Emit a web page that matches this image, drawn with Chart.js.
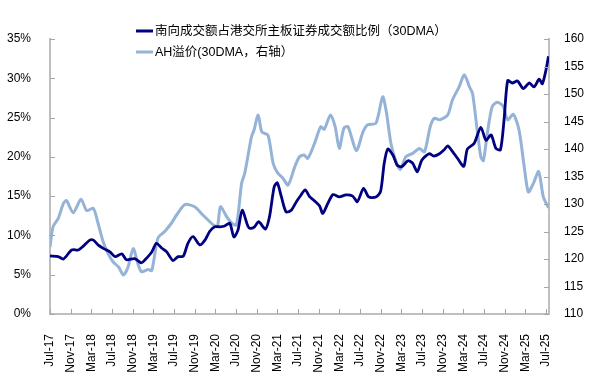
<!DOCTYPE html>
<html><head><meta charset="utf-8">
<script src="https://cdn.jsdelivr.net/npm/chart.js@4.4.1/dist/chart.umd.min.js"></script>
<style>html,body{margin:0;padding:0;background:#fff}#wrap{width:613px;height:381px;position:relative}</style>
</head><body><div id="wrap"><canvas id="c" width="613" height="381"></canvas></div>
<script>
// ---- data ----
const southboundLabel = "南向成交额占港交所主板证券成交额比例（30DMA）";
const ahLabel = "AH溢价(30DMA，右轴）";
const tickLabels = ["Jul-17","Nov-17","Mar-18","Jul-18","Nov-18","Mar-19","Jul-19","Nov-19","Mar-20","Jul-20","Nov-20","Mar-21","Jul-21","Nov-21","Mar-22","Jul-22","Nov-22","Mar-23","Jul-23","Nov-23","Mar-24","Jul-24","Nov-24","Mar-25","Jul-25"];
const tickMonths = [0,4,8,12,16,20,24,28,32,36,40,44,48,52,56,60,64,68,72,76,80,84,88,92,96];
const leftTicks = [0,5,10,15,20,25,30,35];
const rightTicks = [110,115,120,125,130,135,140,145,150,155,160];

// months since Jul-17 and southbound share (%)
const southboundMonths = [0,1.6,2.6,4.2,5.5,6.4,7.7,8.4,9.3,10.3,11.6,12.6,13.9,14.8,16.4,17.7,18.4,19.7,20.6,21.6,22.6,23.8,24.8,25.8,26.7,27.7,29.0,30.0,30.9,31.9,32.9,33.8,34.8,35.6,36.4,37.2,38.3,38.7,39.6,40.4,41.7,42.5,43.4,44.0,44.8,45.7,46.7,47.7,48.6,49.4,50.3,51.2,52.2,52.8,53.8,54.8,56.0,57.3,58.6,59.5,60.7,61.7,63.1,64.0,64.7,65.4,66.4,67.2,68.1,69.3,70.2,71.1,72.0,73.4,74.3,75.4,76.3,77.0,77.9,78.9,80.1,80.8,82.1,83.4,84.4,85.4,86.3,87.2,87.9,88.6,89.5,90.5,91.6,92.8,93.7,94.7,95.3,96.0,96.5];
const southboundShare = [7.4,7.3,7.0,8.15,8.15,8.6,9.4,9.4,8.8,8.35,7.9,7.3,7.65,6.9,7.05,6.5,6.9,7.9,9.0,8.4,7.9,6.8,7.3,7.35,9.0,9.85,8.8,9.4,10.5,11.1,11.1,11.2,11.55,9.8,10.7,13.2,11.2,10.9,11.1,11.75,10.8,12.4,16.2,16.7,14.9,13.0,13.2,14.3,15.15,15.8,14.9,14.4,13.75,12.8,14.1,15.2,14.9,15.15,15.0,14.3,16.0,14.9,14.9,15.6,19.2,21.0,20.2,18.96,18.75,19.5,19.2,18.1,19.6,20.4,20.1,20.4,20.9,21.4,20.7,19.8,18.8,21.0,21.7,23.76,22.1,22.8,21.1,20.9,24.7,29.7,29.4,29.65,28.7,29.4,28.9,29.9,29.3,31.0,32.8];

// months since Jul-17 and AH premium index (right axis)
const ahMonths = [0,0.6,1.6,2.6,3.2,4.5,6.0,7.1,8.4,9.3,10.3,11.3,12.2,13.3,14.2,15.1,16.1,17.0,17.7,19.0,19.7,20.9,22.2,23.5,24.5,26.1,28.0,29.6,31.6,32.4,33.0,34.2,35.2,36.1,37.1,37.7,39.0,39.5,40.3,41.0,42.2,43.2,44.1,45.1,46.1,47.4,48.3,49.2,49.9,51.2,52.4,53.1,54.3,55.2,56.0,56.9,57.7,59.3,60.6,61.5,63.1,64.4,65.1,66.0,67.0,67.8,68.9,70.2,71.5,72.5,73.6,74.4,75.4,77.0,77.9,79.2,80.2,81.2,81.8,82.7,83.4,83.9,84.7,85.6,86.6,87.7,88.6,89.7,90.8,91.8,92.6,93.6,94.6,95.5,96.5];
const ahPremium = [122.2,125.9,127.4,130.1,130.6,128.4,130.85,128.8,129.2,126.5,123.1,120.9,119.5,118.5,117.1,118.5,121.9,119.2,117.7,118.1,117.9,123.8,125.0,126.5,128.0,129.9,129.5,128.0,126.2,125.9,129.5,127.7,126.5,126.2,133.8,135.6,142.2,143.45,146.2,143.1,142.5,137.4,135.6,134.7,133.45,136.8,138.6,138.9,138.3,141.0,144.05,143.6,146.2,144.05,140.1,143.8,144.05,139.7,143.1,144.4,144.7,149.5,146.8,141.0,137.7,136.3,138.6,139.2,140.1,139.5,144.05,145.6,145.3,146.2,148.9,151.3,153.5,151.3,150.1,143.45,138.6,137.9,143.1,147.7,148.5,147.8,145.3,146.3,143.45,136.8,132.2,133.8,135.9,131.3,129.3];

// ---- chart ----
const DARK = '#000080';
const LIGHT = '#95B3D7';
const AXIS = '#BFBFBF';
const FONT = '"Liberation Sans", Arial, "Noto Sans CJK SC", sans-serif';

const innerTicks = {
  id: 'innerTicks',
  afterDraw(chart) {
    const ctx = chart.ctx, a = chart.chartArea;
    const sx = chart.scales.x, sl = chart.scales.yL, sr = chart.scales.yR;
    ctx.save();
    ctx.strokeStyle = '#A6A6A6';
    ctx.lineWidth = 1;
    ctx.beginPath();
    sl.ticks.forEach(t => { const y = Math.round(sl.getPixelForValue(t.value)) + 0.5; ctx.moveTo(a.left, y); ctx.lineTo(a.left + 5, y); });
    sr.ticks.forEach(t => { const y = Math.round(sr.getPixelForValue(t.value)) + 0.5; ctx.moveTo(a.right, y); ctx.lineTo(a.right - 5, y); });
    sx.ticks.forEach(t => { const x = Math.round(sx.getPixelForValue(t.value)) + 0.5; ctx.moveTo(x, a.bottom); ctx.lineTo(x, a.bottom - 5); });
    ctx.stroke();
    ctx.restore();
  }
};

const customLegend = {
  id: 'customLegend',
  afterDraw(chart) {
    const ctx = chart.ctx;
    const rows = [{ds: chart.data.datasets[0], y: 31}, {ds: chart.data.datasets[1], y: 52}];
    ctx.save();
    ctx.font = '12.5px ' + FONT;
    ctx.textBaseline = 'middle';
    ctx.textAlign = 'left';
    rows.forEach(r => {
      ctx.strokeStyle = r.ds.borderColor;
      ctx.lineWidth = 3;
      ctx.beginPath(); ctx.moveTo(136, r.y); ctx.lineTo(153, r.y); ctx.stroke();
      ctx.fillStyle = '#000';
      ctx.fillText(r.ds.label, 155, r.y + 1);
    });
    ctx.restore();
  }
};

new Chart(document.getElementById('c'), {
  type: 'line',
  data: {
    datasets: [
      { label: southboundLabel, data: southboundMonths.map((m, i) => ({x: m, y: southboundShare[i]})),
        yAxisID: 'yL', borderColor: DARK, backgroundColor: DARK, borderWidth: 2.8, pointRadius: 0, tension: 0.25, order: 0 },
      { label: ahLabel, data: ahMonths.map((m, i) => ({x: m, y: ahPremium[i]})),
        yAxisID: 'yR', borderColor: LIGHT, backgroundColor: LIGHT, borderWidth: 3, pointRadius: 0, tension: 0.25, order: 1 }
    ]
  },
  options: {
    responsive: false, animation: false, devicePixelRatio: 1,
    layout: { padding: { top: 39, left: 0, right: 0, bottom: 0 } },
    plugins: { legend: { display: false }, tooltip: { enabled: false } },
    scales: {
      x: {
        type: 'linear', min: 0, max: 96.6,
        afterBuildTicks: s => { s.ticks = tickMonths.map(v => ({value: v})); },
        afterFit: s => { s.height = 67; },
        grid: { display: false },
        border: { display: true, color: AXIS, width: 2 },
        ticks: { autoSkip: false, minRotation: 90, maxRotation: 90, padding: 12, color: '#000',
          font: { family: FONT, size: 12 },
          callback: v => tickLabels[tickMonths.indexOf(v)] }
      },
      yL: {
        type: 'linear', position: 'left', min: 0, max: 35,
        afterBuildTicks: s => { s.ticks = leftTicks.map(v => ({value: v})); },
        afterFit: s => { s.width = 50; },
        grid: { display: false },
        border: { display: true, color: AXIS, width: 2 },
        ticks: { padding: 11, color: '#000', font: { family: FONT, size: 12 }, callback: v => v + '%' }
      },
      yR: {
        type: 'linear', position: 'right', min: 110, max: 160,
        afterBuildTicks: s => { s.ticks = rightTicks.map(v => ({value: v})); },
        afterFit: s => { s.width = 64; },
        grid: { display: false },
        border: { display: true, color: AXIS, width: 2 },
        ticks: { padding: 7, color: '#000', font: { family: FONT, size: 12 }, callback: v => String(v) }
      }
    }
  },
  plugins: [innerTicks, customLegend]
});
</script>
</body></html>
